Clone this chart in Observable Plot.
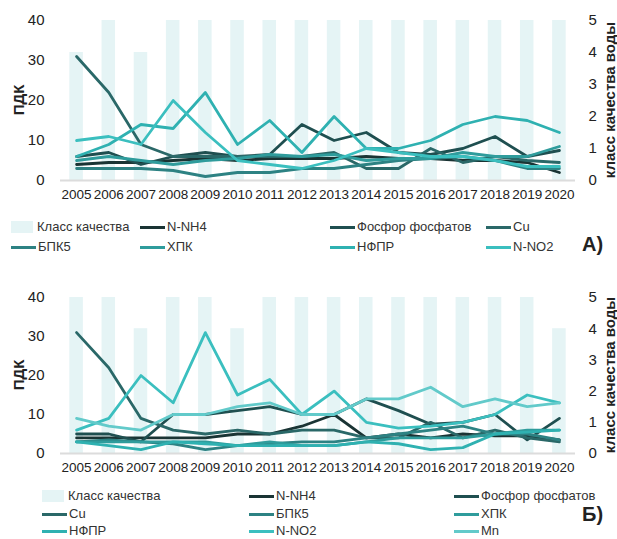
<!DOCTYPE html>
<html><head><meta charset="utf-8">
<script src="https://cdn.jsdelivr.net/npm/d3@7"></script>
<script src="https://cdn.jsdelivr.net/npm/@observablehq/plot@0.6"></script>
<style>
body{margin:0;background:#fff;}
#root{position:relative;width:617px;height:539px;font-family:"Liberation Sans",Arial,sans-serif;color:#222;overflow:hidden;}
.abs{position:absolute;}
.yl{position:absolute;font-weight:bold;font-size:15px;white-space:nowrap;transform:translate(-50%,-50%) rotate(-90deg);}
.li{position:absolute;display:flex;align-items:center;font-size:13px;line-height:14px;white-space:nowrap;transform:translateY(-50%);color:#333;}
.sw{display:inline-block;width:25px;height:3px;margin-right:2px;}
.rs{display:inline-block;width:22px;height:12px;margin-right:4px;background:#e5f4f5;}
.tag{position:absolute;font-weight:bold;font-size:20px;transform:translateY(-50%);}
</style></head>
<body><div id="root">
<div id="a" class="abs" style="left:0;top:0"></div>
<div id="b" class="abs" style="left:0;top:277px"></div>
</div>
<script>
const years = [2005,2006,2007,2008,2009,2010,2011,2012,2013,2014,2015,2016,2017,2018,2019,2020];
const yTicks = [0,10,20,30,40];
const classTicks = [0,1,2,3,4,5];

const namesA = ["N-NH4","Фосфор фосфатов","Cu","БПК5","ХПК","НФПР","N-NO2"];
const namesB = ["N-NH4","Фосфор фосфатов","Cu","БПК5","ХПК","НФПР","N-NO2","Mn"];
const colorsB = ["#1a3434","#1f4f50","#2a6868","#2d8283","#2f9c9c","#2fb1b1","#3bbfbf","#62caca"];

// Panel A
const classA = [4,5,4,5,5,5,5,5,5,5,5,5,5,5,5,5];
const nnh4A  = [4,4.5,4.5,5,5.5,5,5.5,5.5,5.5,6,5.5,5.5,5,5,4.5,2];
const phosA  = [6,7,4,6,7,6,6.5,14,10,12,7,6.5,8,11,6,7.5];
const cuA    = [31,22,9,6,6,6,6,6,7,3,3,8,4.5,6,5,4.5];
const bpkA   = [3,3,3,2.5,1,2,2,3,3,4,5,5.5,6,5,3,3];
const hpkA   = [5,6,5,4,5,5.5,6.5,6,6.5,5,5.5,5.5,7,6,6,8.5];
const nfprA  = [6,9,14,13,22,9,15,7,16,8,8,10,14,16,15,12];
const nno2A  = [10,11,9,20,12,5,4,3,5,8,7,6,6,5,3.5,3.5];

// Panel B
const classB = [5,5,4,5,5,4,5,5,5,5,5,5,5,5,5,4];
const nnh4B  = [4,4,4,4,4,5,5,7,10,4,5,4,5,4.5,4.5,3.5];
const phosB  = [5,5,3,10,10,11,12,10,10,14,11,7.5,8,10,3.5,9];
const cuB    = [31,22,9,6,5,6,5,6,6,4,4,8,4,6,4,3];
const bpkB   = [3,3.5,3,2.5,1,2,2.5,3,3,4,5,6,7,5,5,3.5];
const hpkB   = [3,3,3,3,3,2,3,2,2,3,4,4,4,5,6,6];
const nfprB  = [3,2,1,3,2.5,2,2,2,2,3,2.5,1,1.5,5,5.5,6];
const nno2B  = [6,9,20,13,31,15,19,10,16,8,6.5,7,8,10,15,13];
const mnB    = [9,7,6,10,10,12,13,10,10,14,14,17,12,14,12,13];

const seriesA = [nnh4A,phosA,cuA,bpkA,hpkA,nfprA,nno2A];
const seriesB = [nnh4B,phosB,cuB,bpkB,hpkB,nfprB,nno2B,mnB];

function panel(cls, series, names, colors, height, marginTop, marginBottom) {
  const bars = years.map((y,i)=>({year:y, v:cls[i]}));
  const lines = names.flatMap((n,k)=>years.map((y,i)=>({year:y, v:series[k][i], name:n})));
  return Plot.plot({
    width:617, height, marginLeft:60, marginRight:42, marginTop, marginBottom,
    x:{domain:[2004.5,2020.5]},
    y:{domain:[0,40]},
    color:{domain:names, range:colors},
    style:{fontFamily:"'Liberation Sans',Arial,sans-serif", fontSize:"14px", color:"#222", background:"transparent"},
    marks:[
      Plot.rectY(bars,{x1:d=>d.year-0.21, x2:d=>d.year+0.21, y:d=>d.v*8, fill:"#e5f4f5"}),
      Plot.ruleY([0],{stroke:"#dcdcdc", strokeWidth:2}),
      Plot.axisX({ticks:years, tickFormat:d=>String(d), tickSize:0, tickPadding:9, label:null, fontSize:13.5}),
      Plot.axisY({ticks:yTicks, tickSize:0, tickPadding:16, label:null, fontSize:15}),
      Plot.axisY({anchor:"right", ticks:classTicks.map(c=>c*8), tickFormat:d=>String(d/8), tickSize:0, tickPadding:13, label:null, fontSize:15}),
      Plot.lineY(lines,{x:"year", y:"v", z:"name", stroke:"name", strokeWidth:2.8})
    ]
  });
}

document.getElementById("a").append(panel(classA, seriesA, namesA, colorsB.slice(0,7), 210, 20, 30));
document.getElementById("b").append(panel(classB, seriesB, namesB, colorsB, 206, 20, 30));

const root = document.getElementById("root");
function addLabel(text, x, y){ const d=document.createElement("div"); d.className="yl"; d.textContent=text; d.style.left=x+"px"; d.style.top=y+"px"; root.append(d); }
addLabel("ПДК", 18, 100);
addLabel("класс качества воды", 609, 100);
addLabel("ПДК", 18, 375);
addLabel("класс качества воды", 609, 375);

function legend(items, cols, rows, colors, names){
  items.forEach((it,i)=>{
    const d=document.createElement("div"); d.className="li";
    d.style.left=cols[i%cols.length]+"px"; d.style.top=rows[Math.floor(i/cols.length)]+"px";
    const s=document.createElement("span");
    if(it===null){ s.className="rs"; d.append(s); d.append(document.createTextNode("Класс качества")); }
    else { s.className="sw"; s.style.background=colors[it]; d.append(s); d.append(document.createTextNode(names[it])); }
    root.append(d);
  });
}
legend([null,0,1,2,3,4,5,6],[11,140,330,486],[227,247],colorsB,namesA);
legend([null,0,1,2,3,4,5,6,7],[42,249,454],[496,514,531],colorsB,namesB);
function tag(t,x,y){const d=document.createElement("div");d.className="tag";d.textContent=t;d.style.left=x+"px";d.style.top=y+"px";root.append(d);}
tag("А)",582,244);
tag("Б)",582,514);
</script></body></html>
